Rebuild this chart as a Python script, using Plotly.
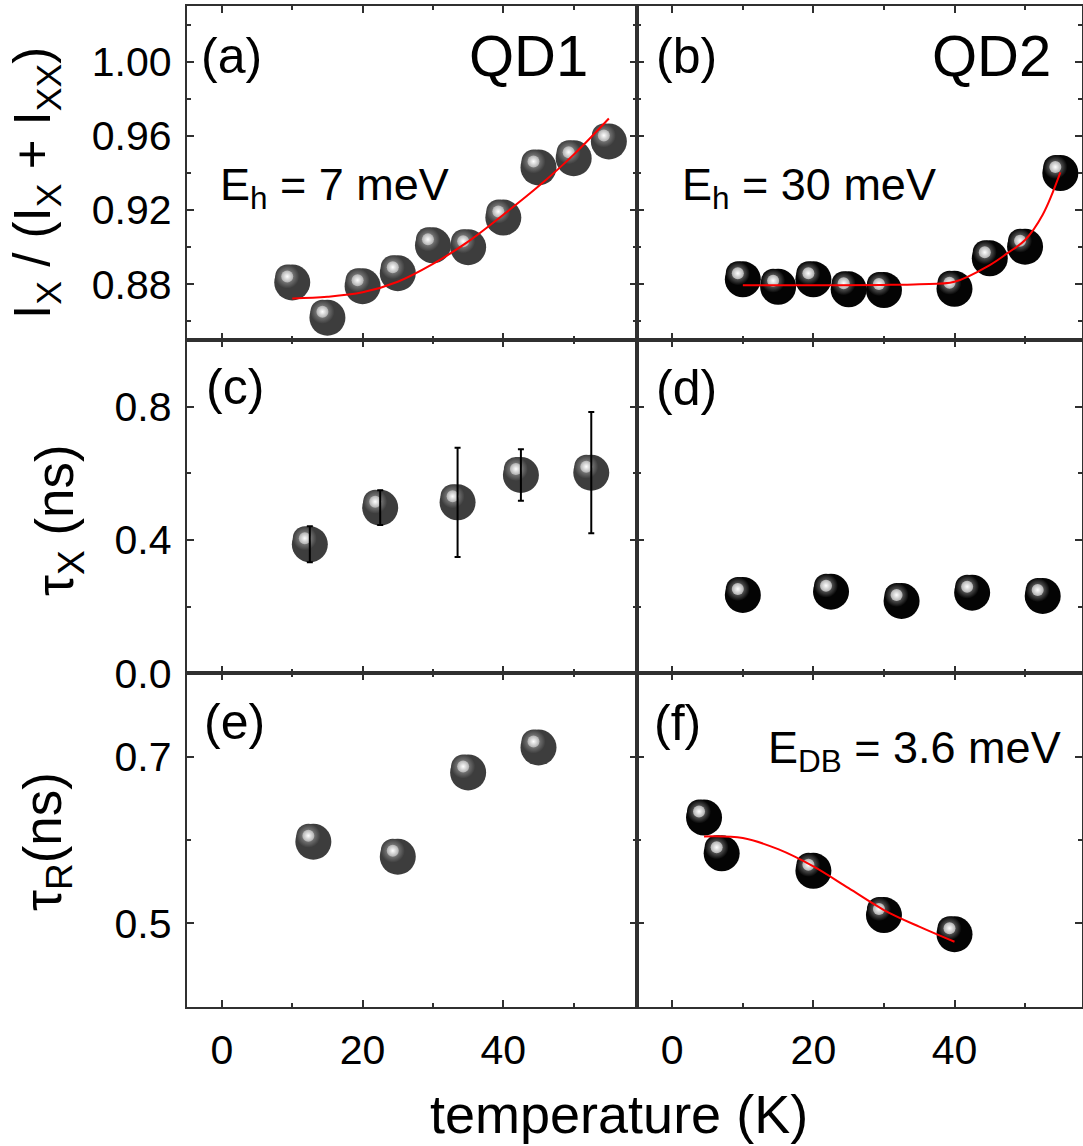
import plotly.graph_objects as go

W, H = 1083, 1146
FONT = "Liberation Sans, Arial, sans-serif"

# ---------------- data ----------------
# (a) QD1: I_X/(I_X+I_XX) vs temperature
t_a = [10, 15, 20, 25, 30, 35, 40, 45, 50, 55]
r_a = [0.881, 0.862, 0.879, 0.886, 0.901, 0.900, 0.916, 0.943, 0.948, 0.957]
fit_t_a = [10, 15, 20, 25, 30, 35, 40, 45, 50, 55]
fit_r_a = [0.8724, 0.8733, 0.8757, 0.8814, 0.8910, 0.9030, 0.9175, 0.9328, 0.9499, 0.9694]

# (b) QD2
t_b = [10, 15, 20, 25, 30, 40, 45, 50, 55]
r_b = [0.8827, 0.8787, 0.8827, 0.8773, 0.8769, 0.8776, 0.894, 0.9003, 0.940]
fit_t_b = [10, 20, 30, 35, 40, 45, 47.5, 50, 52.5, 55]
fit_r_b = [0.8795, 0.8795, 0.8797, 0.8801, 0.8814, 0.8904, 0.8968, 0.9039, 0.9175, 0.9403]

# (c) QD1 tau_X with error bars
t_c = [12.5, 22.5, 33.5, 42.5, 52.5]
tau_c = [0.387, 0.497, 0.513, 0.595, 0.602]
err_c = [0.054, 0.052, 0.164, 0.077, 0.182]

# (d) QD2 tau_X
t_d = [10, 22.5, 32.5, 42.5, 52.5]
tau_d = [0.235, 0.245, 0.217, 0.242, 0.232]

# (e) QD1 tau_R
t_e = [13, 25, 35, 45]
tau_e = [0.598, 0.580, 0.681, 0.711]

# (f) QD2 tau_R
t_f = [4.5, 7, 20, 30, 40]
tau_f = [0.627, 0.584, 0.563, 0.510, 0.487]
fit_t_f = [4.5, 10, 15, 20, 25, 30, 35, 40]
fit_tau_f = [0.6043, 0.6024, 0.5890, 0.5683, 0.5422, 0.5160, 0.4960, 0.4779]

# tick / label texts
x_tickvals = [0, 20, 40]
y1_ticks = [0.88, 0.92, 0.96, 1.00]
y2_ticks = [0.0, 0.4, 0.8]
y3_ticks = [0.5, 0.7]

# ---------------- layout geometry (pixels) ----------------
XL = (186.7, 637.0)
XR = (637.0, 1082.0)
ROWS = [(6.0, 340.0), (340.0, 673.3), (673.3, 1006.7)]
XRANGE_L = [-5, 59]
XRANGE_R = [-5, 58.07]
YRANGES = [[0.85, 1.03], [0.0, 1.0], [0.4, 0.8]]


def xdom(p):
    return [p[0] / W, p[1] / W]


def ydom(p):
    return [1 - p[1] / H, 1 - p[0] / H]


def ppx(px):
    return px / W


def ppy(py):
    return 1 - py / H


AX_COL = "#303030"

fig = go.Figure()

panels = {}
for i in range(6):
    row = i // 2
    left = (i % 2 == 0)
    xp = XL if left else XR
    xr = XRANGE_L if left else XRANGE_R
    yr = YRANGES[row]
    panels[i + 1] = dict(
        px_x=(xp[1] - xp[0]) / (xr[1] - xr[0]),
        px_y=(ROWS[row][1] - ROWS[row][0]) / (yr[1] - yr[0]),
    )


def ax_name(n, kind):
    return f"{kind}{'' if n == 1 else n}"


def spheres(x, y, n, color, mid):
    xa, ya = ax_name(n, "x"), ax_name(n, "y")
    pxx, pxy = panels[n]["px_x"], panels[n]["px_y"]
    fig.add_trace(go.Scatter(
        x=x, y=y, mode="markers", xaxis=xa, yaxis=ya, showlegend=False,
        marker=dict(size=36, color=color, line=dict(width=0)),
        hoverinfo="skip"))
    hx = [v - 5.0 / pxx for v in x]
    hy = [v + 6.0 / pxy for v in y]
    fig.add_trace(go.Scatter(
        x=hx, y=hy, mode="markers", xaxis=xa, yaxis=ya, showlegend=False,
        marker=dict(size=24, color=color, line=dict(width=0),
                    gradient=dict(type="radial", color=mid)),
        hoverinfo="skip"))
    fig.add_trace(go.Scatter(
        x=hx, y=hy, mode="markers", xaxis=xa, yaxis=ya, showlegend=False,
        marker=dict(size=12, color="#b0b0b0", line=dict(width=0),
                    gradient=dict(type="radial", color="#ffffff")),
        hoverinfo="skip"))


def redline(x, y, n):
    fig.add_trace(go.Scatter(
        x=x, y=y, mode="lines", xaxis=ax_name(n, "x"), yaxis=ax_name(n, "y"),
        line=dict(color="#ff0000", width=2, shape="spline", smoothing=1.0),
        showlegend=False, hoverinfo="skip"))


QD1_COL = "#3d3d3d"
QD2_COL = "#040404"

spheres(t_a, r_a, 1, QD1_COL, "#a8a8a8")
redline(fit_t_a, fit_r_a, 1)
spheres(t_b, r_b, 2, QD2_COL, "#9a9a9a")
redline(fit_t_b, fit_r_b, 2)
spheres(t_c, tau_c, 3, QD1_COL, "#a8a8a8")
fig.add_trace(go.Scatter(
    x=t_c, y=tau_c, mode="markers", xaxis="x3", yaxis="y3", showlegend=False,
    marker=dict(size=1, color="rgba(0,0,0,0)"),
    error_y=dict(type="data", array=err_c, visible=True, color="#000000",
                 thickness=2, width=3),
    hoverinfo="skip"))
spheres(t_d, tau_d, 4, QD2_COL, "#9a9a9a")
spheres(t_e, tau_e, 5, QD1_COL, "#a8a8a8")
spheres(t_f, tau_f, 6, QD2_COL, "#9a9a9a")
redline(fit_t_f, fit_tau_f, 6)

tickfont = dict(family=FONT, size=41, color="#000000")
common = dict(
    showline=True, linecolor=AX_COL, linewidth=2, mirror="ticks",
    ticks="inside", ticklen=7, tickwidth=1.5, tickcolor=AX_COL,
    showgrid=False, zeroline=False, automargin=False, tickfont=tickfont,
)

layout = {}
for i in range(6):
    n = i + 1
    row = i // 2
    left = (i % 2 == 0)
    xa, ya = ax_name(n, "xaxis"), ax_name(n, "yaxis")
    layout[xa] = dict(
        common, domain=xdom(XL if left else XR), anchor=ax_name(n, "y"),
        range=XRANGE_L if left else XRANGE_R,
        tickvals=x_tickvals, ticktext=[str(v) for v in x_tickvals],
        showticklabels=(row == 2), ticklabelstandoff=6,
        minor=dict(dtick=10, tick0=0, ticks="inside", ticklen=4,
                   tickwidth=1.5, tickcolor=AX_COL, showgrid=False),
    )
    if row == 0:
        yt, fmt, mdt, m0 = y1_ticks, "{:.2f}", 0.02, 0.86
    elif row == 1:
        yt, fmt, mdt, m0 = y2_ticks, "{:.1f}", 0.2, 0.0
    else:
        yt, fmt, mdt, m0 = y3_ticks, "{:.1f}", 0.1, 0.4
    layout[ya] = dict(
        common, domain=ydom(ROWS[row]), anchor=ax_name(n, "x"),
        range=YRANGES[row], tickvals=yt, ticktext=[fmt.format(v) for v in yt],
        showticklabels=left, ticklabelstandoff=5,
        minor=dict(dtick=mdt, tick0=m0, ticks="inside", ticklen=4,
                   tickwidth=1.5, tickcolor=AX_COL, showgrid=False),
    )

annotations = []


def ann(text, x, y, size, xanchor="left", yanchor="middle", angle=0):
    annotations.append(dict(
        text=text, x=ppx(x), y=ppy(y), xref="paper", yref="paper",
        xanchor=xanchor, yanchor=yanchor, showarrow=False, textangle=angle,
        font=dict(family=FONT, size=size, color="#000000")))


# panel labels
ann("(a)", 199, 56, 50)
ann("(b)", 654, 56, 50)
ann("(c)", 204, 387, 50)
ann("(d)", 654, 388, 50)
ann("(e)", 202, 722, 50)
ann("(f)", 652, 723, 50)
# QD titles
ann("QD1", 528, 56, 58, xanchor="center")
ann("QD2", 991, 56, 58, xanchor="center")
# energies
ann("E<sub>h</sub> = 7 meV", 218, 187, 45)
ann("E<sub>h</sub> = 30 meV", 680, 187, 45)
ann("E<sub>DB</sub> = 3.6 meV", 766, 750, 45)
# axis titles
ann("I<sub>X</sub> / (I<sub>X</sub> + I<sub>XX</sub>)", 36, 183, 51,
    xanchor="center", angle=-90)
ann("τ<sub>X</sub> (ns)", 58, 520, 53, xanchor="center", angle=-90)
ann("τ<sub>R</sub>(ns)", 46, 842, 53, xanchor="center", angle=-90)
ann("temperature (K)", 619, 1114, 54, xanchor="center")

fig.update_layout(
    width=W, height=H,
    margin=dict(l=0, r=0, t=0, b=0),
    paper_bgcolor="#ffffff", plot_bgcolor="#ffffff",
    showlegend=False,
    annotations=annotations,
    font=dict(family=FONT, color="#000000"),
    **layout,
)

fig.write_html(
    "out.html",
    config={"displayModeBar": False},
    post_script="document.body.style.margin='0px';document.body.style.padding='0px';",
)
